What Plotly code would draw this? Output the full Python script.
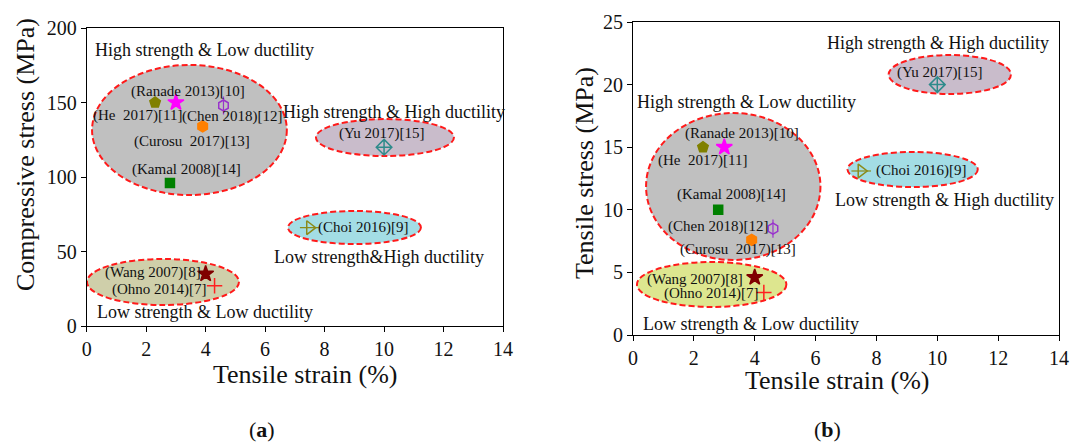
import plotly.graph_objects as go

# ---- data -------------------------------------------------------------
studies = ["He 2017", "Ranade 2013", "Chen 2018", "Curosu 2017", "Kamal 2008",
           "Yu 2017", "Choi 2016", "Wang 2007", "Ohno 2014"]

# (a) tensile strain (%) vs compressive stress (MPa)
strain_a = [2.3, 3.0, 4.6, 3.9, 2.8, 10.0, 7.5, 4.0, 4.3]
comp_stress = [150, 150, 148, 134, 96, 120, 66, 35, 27]

# (b) tensile strain (%) vs tensile stress (MPa)
strain_b = [2.3, 3.0, 4.6, 3.9, 2.8, 10.0, 7.5, 4.0, 4.3]
tens_stress = [15.0, 15.0, 8.5, 7.6, 10.0, 20.0, 13.1, 4.6, 3.4]

x_ticks = [0, 2, 4, 6, 8, 10, 12, 14]
y_ticks_a = [0, 50, 100, 150, 200]
y_ticks_b = [0, 5, 10, 15, 20, 25]

# region ellipses: (x0, x1, y0, y1, fill)
regions_a = [
    (0.18, 6.73, 87.9, 175.2, "#c0c0c0"),
    (7.71, 12.35, 114.1, 138.9, "#c9bccb"),
    (6.77, 11.24, 55.0, 77.2, "#a3dde5"),
    (0.01, 5.12, 14.1, 45.0, "#cfcfaa"),
]
regions_b = [
    (0.43, 6.16, 5.99, 17.73, "#c0c0c0"),
    (8.40, 12.42, 19.25, 22.36, "#c9bccb"),
    (7.05, 11.33, 11.82, 14.62, "#a3dde5"),
    (0.13, 5.04, 2.24, 5.83, "#dde68f"),
]

# text labels: (text, x, y, size)
labels_a = [
    ("High strength & Low ductility", 3.95, 185.2, 18),
    ("(Ranade 2013)[10]", 3.40, 157.7, 15),
    ("(He\u00a0 2017)[11]", 1.72, 141.6, 15),
    ("(Chen 2018)[12]", 4.89, 140.3, 15),
    ("(Curosu\u00a0 2017)[13]", 3.54, 123.5, 15),
    ("(Kamal 2008)[14]", 3.37, 104.7, 15),
    ("High strength & High ductility", 10.34, 143.6, 18),
    ("(Yu 2017)[15]", 9.90, 128.9, 15),
    ("(Choi 2016)[9]", 9.29, 65.8, 15),
    ("Low strength&High ductility", 9.83, 46.5, 18),
    ("(Wang 2007)[8]", 2.23, 35.6, 15),
    ("(Ohno 2014)[7]", 2.46, 24.2, 15),
    ("Low strength & Low ductility", 3.98, 9.4, 18),
]
labels_b = [
    ("High strength & Low ductility", 3.72, 18.6, 18),
    ("(Ranade 2013)[10]", 3.59, 16.13, 15),
    ("(He\u00a0 2017)[11]", 2.27, 13.9, 15),
    ("(Kamal 2008)[14]", 3.23, 11.26, 15),
    ("(Chen 2018)[12]", 2.80, 8.7, 15),
    ("(Curosu\u00a0 2017)[13]", 3.46, 6.79, 15),
    ("(Wang 2007)[8]", 2.04, 4.47, 15),
    ("(Ohno 2014)[7]", 2.57, 3.35, 15),
    ("Low strength & Low ductility", 3.89, 0.88, 18),
    ("High strength & High ductility", 10.01, 23.32, 18),
    ("(Yu 2017)[15]", 10.08, 20.93, 15),
    ("(Choi 2016)[9]", 9.45, 13.1, 15),
    ("Low strength & High ductility", 10.24, 10.78, 18),
]

# marker style per study; "inner" is an extra glyph drawn on top of the marker
marker_styles = {
    "He 2017": dict(symbol="pentagon", color="#808000", size=11),
    "Ranade 2013": dict(symbol="star", color="#ff00ff", size=12),
    "Chen 2018": dict(symbol="hexagon-open", color="#9933cc", size=11, inner="line-ns"),
    "Curosu 2017": dict(symbol="hexagon", color="#ff8000", size=11),
    "Kamal 2008": dict(symbol="square", color="#008000", size=9),
    "Yu 2017": dict(symbol="diamond-cross-open", color="#2e8b8b", size=12),
    "Choi 2016": dict(symbol="triangle-right-open", color="#8b8b1a", size=12, inner="line-ew"),
    "Wang 2007": dict(symbol="star", color="#800000", size=12),
    "Ohno 2014": dict(symbol="cross-thin-open", color="#ff2020", size=11),
}

FONT = "Liberation Serif"

fig = go.Figure()

for xs, ys, xa, ya in [(strain_a, comp_stress, "x", "y"),
                       (strain_b, tens_stress, "x2", "y2")]:
    for name, xv, yv in zip(studies, xs, ys):
        st = marker_styles[name]
        fig.add_trace(go.Scatter(
            x=[xv], y=[yv], mode="markers", name=name, showlegend=False,
            xaxis=xa, yaxis=ya,
            marker=dict(symbol=st["symbol"], size=st["size"], color=st["color"],
                        line=dict(color=st["color"], width=1.5)),
        ))
        if "inner" in st:
            fig.add_trace(go.Scatter(
                x=[xv], y=[yv], mode="markers", name=name, showlegend=False,
                xaxis=xa, yaxis=ya, hoverinfo="skip",
                marker=dict(symbol=st["inner"], size=st["size"] + 2,
                            line=dict(color=st["color"], width=1.2)),
            ))

shapes = []
for regs, xr, yr in [(regions_a, "x", "y"), (regions_b, "x2", "y2")]:
    for x0, x1, y0, y1, fill in regs:
        shapes.append(dict(type="circle", xref=xr, yref=yr, x0=x0, x1=x1, y0=y0, y1=y1,
                           fillcolor=fill, layer="below",
                           line=dict(color="#ff1a1a", width=2, dash="6px,3px")))

annotations = []
for labs, xr, yr in [(labels_a, "x", "y"), (labels_b, "x2", "y2")]:
    for text, xv, yv, size in labs:
        annotations.append(dict(text=text, x=xv, y=yv, xref=xr, yref=yr, showarrow=False,
                                xanchor="center", yanchor="middle",
                                font=dict(family=FONT, size=size, color="#111")))

# axis titles and panel tags
W, H = 1072, 443
def paper(px, py):
    return px / W, 1 - py / H

for text, px, py, size, angle in [
    ("Tensile strain (%)", 305, 374, 26, 0),
    ("Tensile strain (%)", 837, 380, 26, 0),
    ("Compressive stress (MPa)", 25, 155, 26, -90),
    ("Tensile stress (MPa)", 585, 173, 26, -90),
    ("(<b>a</b>)", 262, 429, 22, 0),
    ("(<b>b</b>)", 827, 429, 22, 0),
]:
    xp, yp = paper(px, py)
    annotations.append(dict(text=text, x=xp, y=yp, xref="paper", yref="paper",
                            showarrow=False, textangle=angle,
                            xanchor="center", yanchor="middle",
                            font=dict(family=FONT, size=size, color="#111")))

tick_font = dict(family="Liberation Serif", size=20, color="#111")
axis_common = dict(showgrid=False, zeroline=False, showline=True, linecolor="black",
                   linewidth=1, mirror=True, ticks="outside", ticklen=5, tickwidth=1,
                   tickcolor="black", tickfont=tick_font)

fig.update_layout(
    width=W, height=H, margin=dict(l=0, r=0, t=0, b=0, autoexpand=False),
    font=dict(family=FONT, size=20, color="#111"),
    paper_bgcolor="white", plot_bgcolor="white",
    xaxis=dict(domain=[86.7 / W, 503 / W], range=[0, 14], tickvals=x_ticks,
               anchor="y", **axis_common),
    yaxis=dict(domain=[1 - 326 / H, 1 - 28 / H], range=[0, 200], tickvals=y_ticks_a,
               anchor="x", **axis_common),
    xaxis2=dict(domain=[633 / W, 1059 / W], range=[0, 14], tickvals=x_ticks,
                anchor="y2", **axis_common),
    yaxis2=dict(domain=[1 - 335 / H, 1 - 22 / H], range=[0, 25], tickvals=y_ticks_b,
                anchor="x2", **axis_common),
    shapes=shapes, annotations=annotations,
)

fig.write_html("out.html")
